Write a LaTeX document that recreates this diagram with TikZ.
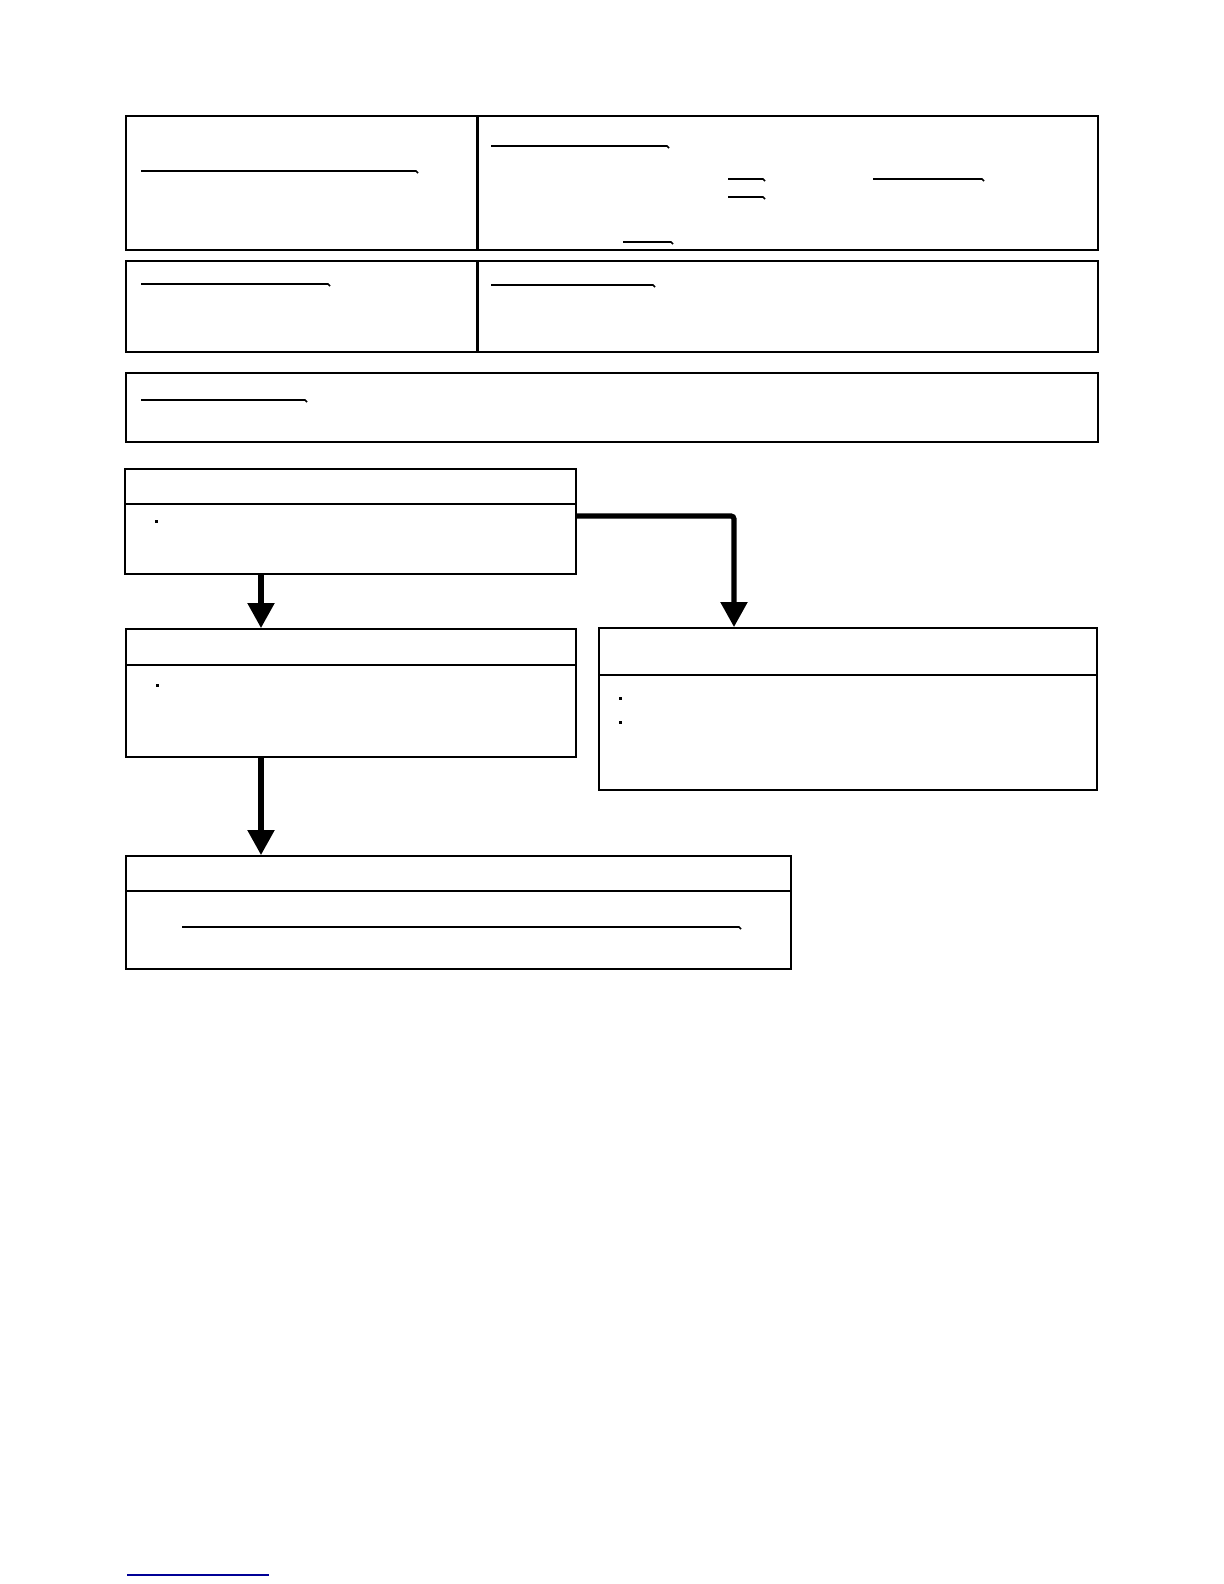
\documentclass[tikz,border=0pt]{standalone}
\usetikzlibrary{arrows.meta,fit}
\definecolor{linkblue}{RGB}{0,0,150}
\tikzset{
  box/.style={draw=black, line width=0.95pt, inner sep=0pt, rectangle},
  divider/.style={draw=black, line width=1.5pt},
  header/.style={draw=black, line width=1pt},
  thinheader/.style={draw=black, line width=0.75pt},
  uline/.style={draw=black, line width=0.8pt},
  dotmark/.style={fill=black},
  arr/.style={draw=black, line width=2.6pt, -{Triangle[length=12.5pt,width=13pt]}},
}
\begin{document}
\begin{tikzpicture}[x=0.5pt,y=-0.5pt]
\useasboundingbox[fill=white] (0,0) rectangle (1224,1584);

% top info rows
\node[box, fit={(126,116)(477,250)}] (r1l) {};
\node[box, fit={(477,116)(1098,250)}] (r1r) {};
\draw[divider] (r1l.north east) -- (r1l.south east);
\node[box, fit={(126,261)(477,352)}] (r2l) {};
\node[box, fit={(477,261)(1098,352)}] (r2r) {};
\draw[divider] (r2l.north east) -- (r2l.south east);
\node[box, fit={(126,373)(1098,442)}] (r3) {};

% underlines (blank fields)
\draw[uline] (141,171) -- (416,171) -- (418,173);
\draw[uline] (491,146) -- (667,146) -- (669,148);
\draw[uline] (728,179) -- (763,179) -- (765,181);
\draw[uline] (728,197) -- (763,197) -- (765,199);
\draw[uline] (873,179) -- (982,179) -- (984,181);
\draw[uline] (623,242) -- (671,242) -- (673,244);
\draw[uline] (141,284) -- (328,284) -- (330,286);
\draw[uline] (491,285) -- (653,285) -- (655,287);
\draw[uline] (141,400) -- (305,400) -- (307,402);

% flow boxes
\node[box, fit={(125,469)(576,574)}] (a) {};
\coordinate (ha) at (0,504);
\draw[header] (a.west |- ha) -- (a.east |- ha);
\node[box, fit={(126,629)(576,757)}] (b) {};
\coordinate (hb) at (0,665);
\draw[header] (b.west |- hb) -- (b.east |- hb);
\node[box, fit={(599,628)(1097,790)}] (c) {};
\coordinate (hc) at (0,675);
\draw[thinheader] (c.west |- hc) -- (c.east |- hc);
\node[box, fit={(126,856)(791,969)}] (d) {};
\coordinate (hd) at (0,891);
\draw[header] (d.west |- hd) -- (d.east |- hd);
\draw[uline] (182,927) -- (739,927) -- (741,929);

% bullet dots
\fill[dotmark] (155,520) rectangle (158,523);
\fill[dotmark] (156,684) rectangle (159,687);
\fill[dotmark] (619,697) rectangle (622,700);
\fill[dotmark] (619,721) rectangle (622,724);

% connectors
\coordinate (xl) at (261,0);
\coordinate (xr) at (734,0);
\coordinate (ya) at (0,516);
\draw[arr] (a.south -| xl) -- (b.north -| xl);
\draw[arr, rounded corners=1.5pt] (a.east |- ya) -| (c.north -| xr);
\draw[arr] (b.south -| xl) -- (d.north -| xl);

% footer line
\draw[linkblue, line width=0.9pt] (127,1575) -- (269,1575);
\end{tikzpicture}
\end{document}
